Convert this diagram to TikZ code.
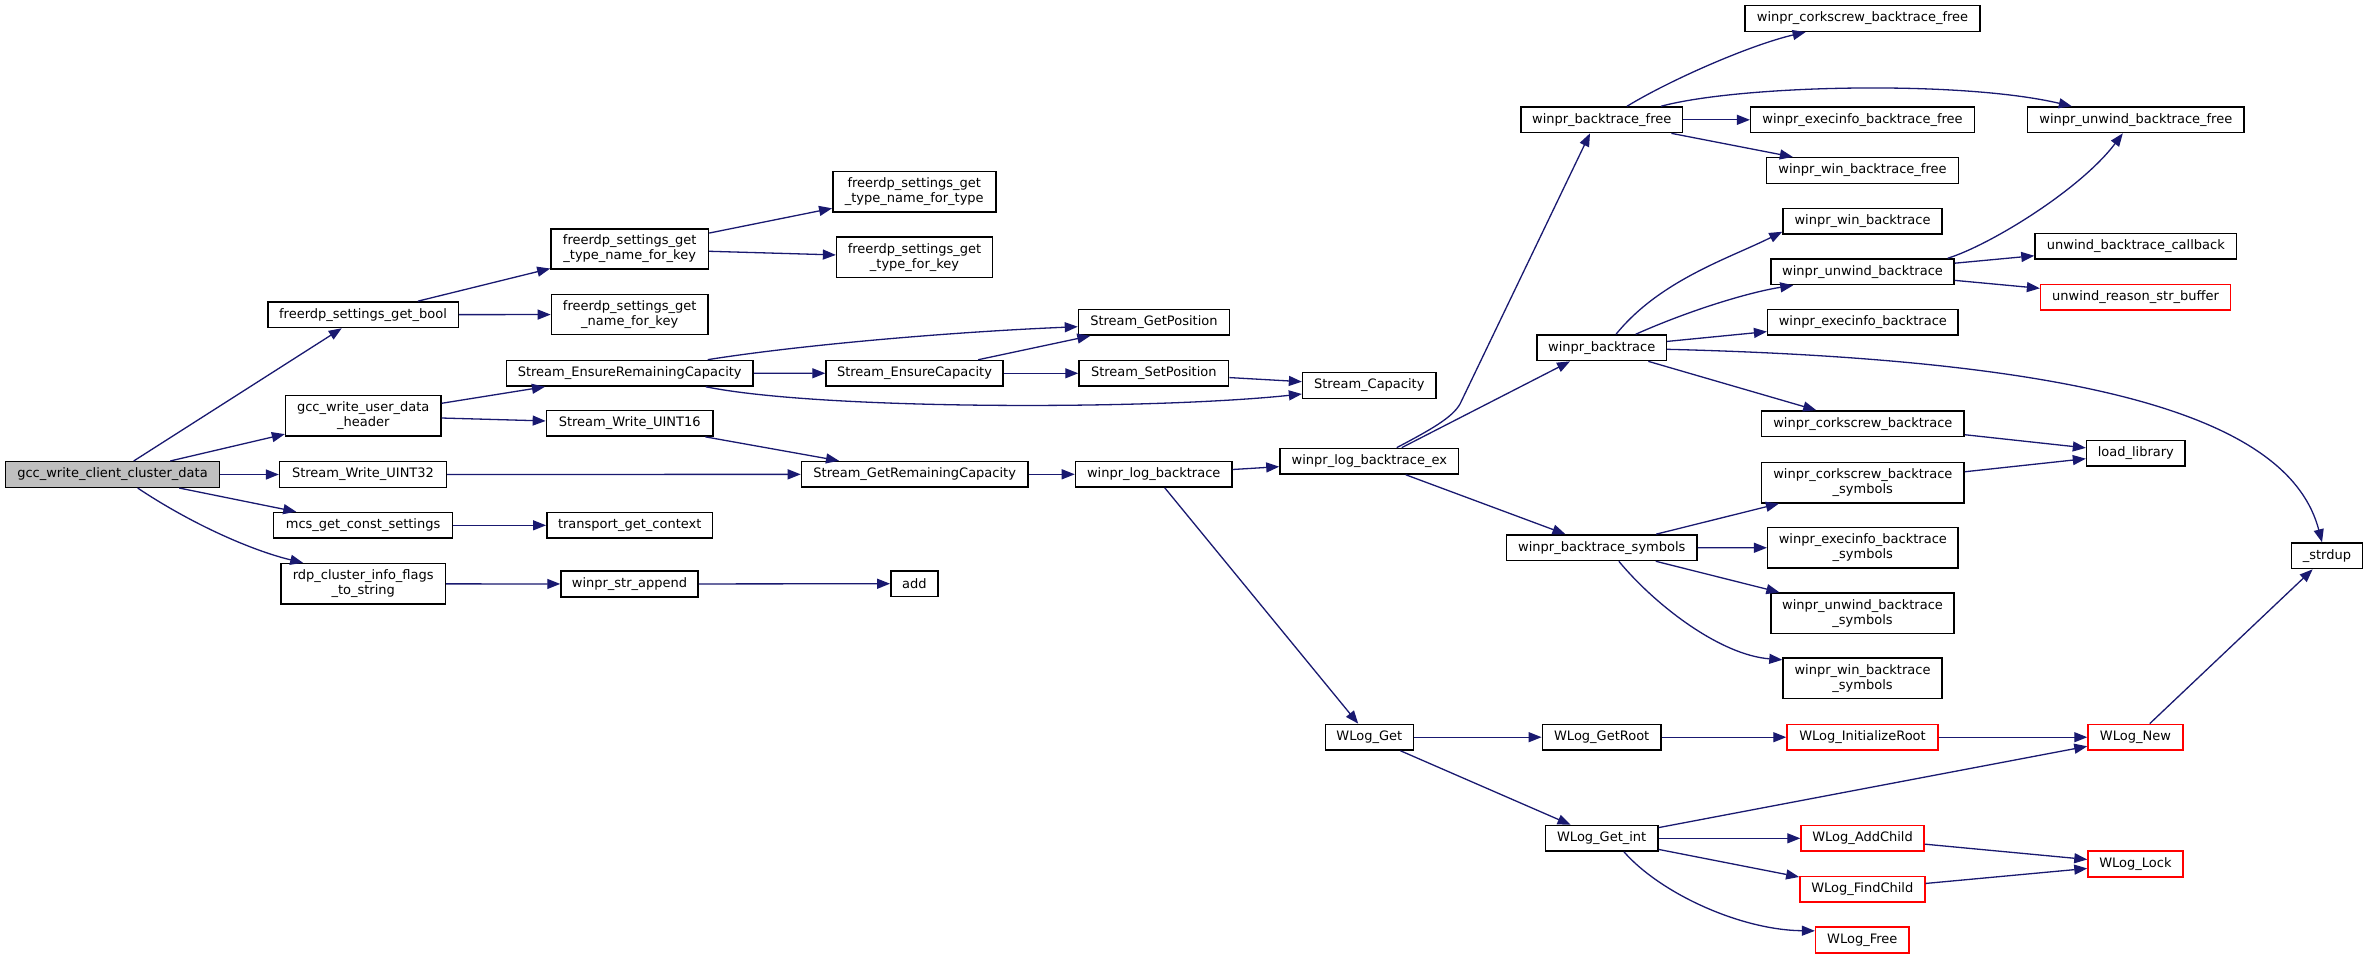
\documentclass[tikz,border=0pt]{standalone}
\usepackage{fontspec}
\setmainfont{DejaVu Sans}
\usetikzlibrary{arrows.meta}
\definecolor{edgec}{HTML}{191970}
\definecolor{rootfill}{HTML}{BFBFBF}
\definecolor{redc}{HTML}{FF0000}
\tikzset{
  nb/.style={draw=black, line width=1.5pt, fill=white, inner sep=0pt, minimum height=25.6pt, align=center, font=\fontsize{13}{15}\selectfont},
  tall/.style={minimum height=40.3pt},
  redb/.style={draw=redc},
  rootb/.style={fill=rootfill},
  edge/.style={draw=edgec, line width=1.3pt, -{Triangle[length=13pt,width=10pt]}}
}
\begin{document}
\begin{tikzpicture}[x=1pt,y=-1pt]
\useasboundingbox (0,0) rectangle (2368,959);
\fill[white] (0,0) rectangle (2368,959);
% column 1
\node[nb, rootb, minimum width=214pt] (root) at (112.5,474.5) {gcc\_write\_client\_cluster\_data};
% column 2
\node[nb, minimum width=190.5pt] (bool) at (363,314.7) {freerdp\_settings\_get\_bool};
\node[nb, tall, minimum width=155.2pt] (udh) at (363.2,415.8) {gcc\_write\_user\_data\\\_header};
\node[nb, minimum width=166.7pt] (u32) at (363,474.5) {Stream\_Write\_UINT32};
\node[nb, minimum width=179pt] (mcs) at (363.1,525.3) {mcs\_get\_const\_settings};
\node[nb, tall, minimum width=164.4pt] (rdp) at (363.2,583.8) {rdp\_cluster\_info\_flags\\\_to\_string};
% column 3
\node[nb, tall, minimum width=157.5pt] (tnk) at (629.7,249) {freerdp\_settings\_get\\\_type\_name\_for\_key};
\node[nb, tall, minimum width=156.6pt] (nfk) at (629.7,314.5) {freerdp\_settings\_get\\\_name\_for\_key};
\node[nb, minimum width=246.6pt] (erc) at (629.7,373.2) {Stream\_EnsureRemainingCapacity};
\node[nb, minimum width=166.6pt] (w16) at (629.7,423.3) {Stream\_Write\_UINT16};
\node[nb, minimum width=165.8pt] (tgc) at (629.7,525.3) {transport\_get\_context};
\node[nb, minimum width=137pt] (wsa) at (629.5,584) {winpr\_str\_append};
% column 4
\node[nb, tall, minimum width=163pt] (tnt) at (914.3,191.8) {freerdp\_settings\_get\\\_type\_name\_for\_type};
\node[nb, tall, minimum width=155.8pt] (tfk) at (914.5,257.2) {freerdp\_settings\_get\\\_type\_for\_key};
\node[nb, minimum width=177pt] (ec) at (914.5,373.3) {Stream\_EnsureCapacity};
\node[nb, minimum width=226.5pt] (grc) at (914.7,474.3) {Stream\_GetRemainingCapacity};
\node[nb, minimum width=47pt] (add) at (914.3,583.7) {add};
% column 5
\node[nb, minimum width=150.8pt] (gp) at (1153.9,322.3) {Stream\_GetPosition};
\node[nb, minimum width=149.6pt] (sp) at (1153.8,373.3) {Stream\_SetPosition};
\node[nb, minimum width=156.5pt] (lb) at (1153.7,474.3) {winpr\_log\_backtrace};
% column 6
\node[nb, minimum width=133.4pt] (cap) at (1369.3,385.5) {Stream\_Capacity};
\node[nb, minimum width=178.7pt] (lbe) at (1369.3,461.2) {winpr\_log\_backtrace\_ex};
\node[nb, minimum width=87.9pt] (wget) at (1369.3,737.2) {WLog\_Get};
% column 7
\node[nb, minimum width=161.9pt] (btf) at (1601.7,119.8) {winpr\_backtrace\_free};
\node[nb, minimum width=129.1pt] (bt) at (1601.7,347.8) {winpr\_backtrace};
\node[nb, minimum width=190.4pt] (bts) at (1601.8,547.7) {winpr\_backtrace\_symbols};
\node[nb, minimum width=118.7pt] (wroot) at (1601.7,737.2) {WLog\_GetRoot};
\node[nb, minimum width=112.6pt] (wgi) at (1601.7,838.3) {WLog\_Get\_int};
% column 8
\node[nb, minimum width=235pt] (cbf) at (1862.5,18.5) {winpr\_corkscrew\_backtrace\_free};
\node[nb, minimum width=223.7pt] (ebf) at (1862.5,119.8) {winpr\_execinfo\_backtrace\_free};
\node[nb, minimum width=191.9pt] (wbf) at (1862.5,170.5) {winpr\_win\_backtrace\_free};
\node[nb, minimum width=159pt] (wb) at (1862.5,221.2) {winpr\_win\_backtrace};
\node[nb, minimum width=183pt] (ub) at (1862.5,271.8) {winpr\_unwind\_backtrace};
\node[nb, minimum width=190.3pt] (eb) at (1862.8,322.3) {winpr\_execinfo\_backtrace};
\node[nb, minimum width=202.7pt] (cb) at (1862.8,423.7) {winpr\_corkscrew\_backtrace};
\node[nb, tall, minimum width=202.7pt] (cbs) at (1862.8,482.7) {winpr\_corkscrew\_backtrace\\\_symbols};
\node[nb, tall, minimum width=190.3pt] (ebs) at (1862.8,547.8) {winpr\_execinfo\_backtrace\\\_symbols};
\node[nb, tall, minimum width=183pt] (ubs) at (1862.5,613.2) {winpr\_unwind\_backtrace\\\_symbols};
\node[nb, tall, minimum width=159pt] (wbs) at (1862.5,678.3) {winpr\_win\_backtrace\\\_symbols};
\node[nb, redb, minimum width=151pt] (winit) at (1862.5,737.2) {WLog\_InitializeRoot};
\node[nb, redb, minimum width=123pt] (wadd) at (1862.5,838.3) {WLog\_AddChild};
\node[nb, redb, minimum width=124.9pt] (wfind) at (1862.3,889.3) {WLog\_FindChild};
\node[nb, redb, minimum width=93.4pt] (wfree) at (1862.3,940) {WLog\_Free};
% column 9
\node[nb, minimum width=216.4pt] (ubf) at (2135.8,119.8) {winpr\_unwind\_backtrace\_free};
\node[nb, minimum width=201.6pt] (ubc) at (2135.8,246.3) {unwind\_backtrace\_callback};
\node[nb, redb, minimum width=189.8pt] (ursb) at (2135.5,297.2) {unwind\_reason\_str\_buffer};
\node[nb, minimum width=98.5pt] (ll) at (2135.8,453.3) {load\_library};
\node[nb, redb, minimum width=94.8pt] (wnew) at (2135.4,737.2) {WLog\_New};
\node[nb, redb, minimum width=94.8pt] (wlock) at (2135.4,864) {WLog\_Lock};
% column 10
\node[nb, minimum width=70.8pt] (strdup) at (2326.9,555.8) {\_strdup};

% edges
\draw[edge] (root) -- (bool);
\draw[edge] (root) -- (udh);
\draw[edge] (root) -- (u32);
\draw[edge] (root) -- (mcs);
\draw[edge] ([xshift=25.2pt]root.south) .. controls (190,523) and (250,550) .. ([xshift=-60pt]rdp.north);
\draw[edge] (bool) -- (tnk);
\draw[edge] (bool) -- (nfk);
\draw[edge] (tnk) -- (tnt);
\draw[edge] (tnk) -- (tfk);
\draw[edge] (udh) -- (erc);
\draw[edge] (udh) -- (w16);
\draw[edge] ([xshift=-46pt]erc.north east) .. controls (800,345) and (950,332) .. ([yshift=-4.4pt]gp.west);
\draw[edge] (erc) -- (ec);
\draw[edge] ([xshift=-48pt]erc.south east) .. controls (820,410) and (1150,410) .. ([yshift=-8.5pt]cap.west);
\draw[edge] (ec) -- (gp);
\draw[edge] (ec) -- (sp);
\draw[edge] (sp) -- (cap);
\draw[edge] (w16) -- (grc);
\draw[edge] (u32) -- (grc);
\draw[edge] (mcs) -- (tgc);
\draw[edge] (rdp) -- (wsa);
\draw[edge] (wsa) -- (add);
\draw[edge] (grc) -- (lb);
\draw[edge] (lb) -- (lbe);
\draw[edge] (lb) -- (wget);
\draw[edge] ([xshift=27.4pt]lbe.north) .. controls (1430,430) and (1452,418) .. (1460,404) -- ([xshift=-11.7pt]btf.south);
\draw[edge] ([xshift=32.4pt]lbe.north) -- ([xshift=-31.7pt]bt.south);
\draw[edge] (lbe) -- (bts);
\draw[edge] ([xshift=25.3pt]btf.north) .. controls (1670,80) and (1750,45) .. ([xshift=-56.9pt]cbf.south);
\draw[edge] ([xshift=59.3pt]btf.north) .. controls (1740,85) and (1960,80) .. ([xshift=-64pt]ubf.north);
\draw[edge] (btf) -- (ebf);
\draw[edge] (btf) -- (wbf);
\draw[edge] ([xshift=14.3pt]bt.north) .. controls (1660,280) and (1730,258) .. ([yshift=3pt]wb.south west);
\draw[edge] ([xshift=34pt]bt.north) .. controls (1690,310) and (1750,292) .. ([xshift=23pt]ub.south west);
\draw[edge] (bt) -- (eb);
\draw[edge] ([yshift=-1.5pt]bt.east) .. controls (2100,360) and (2290,420) .. ([xshift=-4.9pt]strdup.north);
\draw[edge] (bt) -- (cb);
\draw[edge] ([xshift=-7pt]ub.north east) .. controls (1990,245) and (2080,190) .. ([xshift=-13pt]ubf.south);
\draw[edge] (ub) -- (ubc);
\draw[edge] (ub) -- (ursb);
\draw[edge] (cb) -- (ll);
\draw[edge] (cbs) -- (ll);
\draw[edge] (bts) -- (cbs);
\draw[edge] (bts) -- (ebs);
\draw[edge] (bts) -- (ubs);
\draw[edge] ([xshift=17pt]bts.south) .. controls (1655,605) and (1720,655) .. ([yshift=-2.4pt]wbs.north west);
\draw[edge] (wget) -- (wroot);
\draw[edge] (wget) -- (wgi);
\draw[edge] (wroot) -- (winit);
\draw[edge] (winit) -- (wnew);
\draw[edge] (wnew) -- (strdup);
\draw[edge] (wgi) -- (wnew);
\draw[edge] (wgi) -- (wadd);
\draw[edge] (wgi) -- (wfind);
\draw[edge] ([xshift=22.3pt]wgi.south) .. controls (1660,893) and (1740,930) .. ([yshift=-4.4pt]wfree.north west);
\draw[edge] (wadd) -- (wlock);
\draw[edge] (wfind) -- (wlock);
\end{tikzpicture}
\end{document}
